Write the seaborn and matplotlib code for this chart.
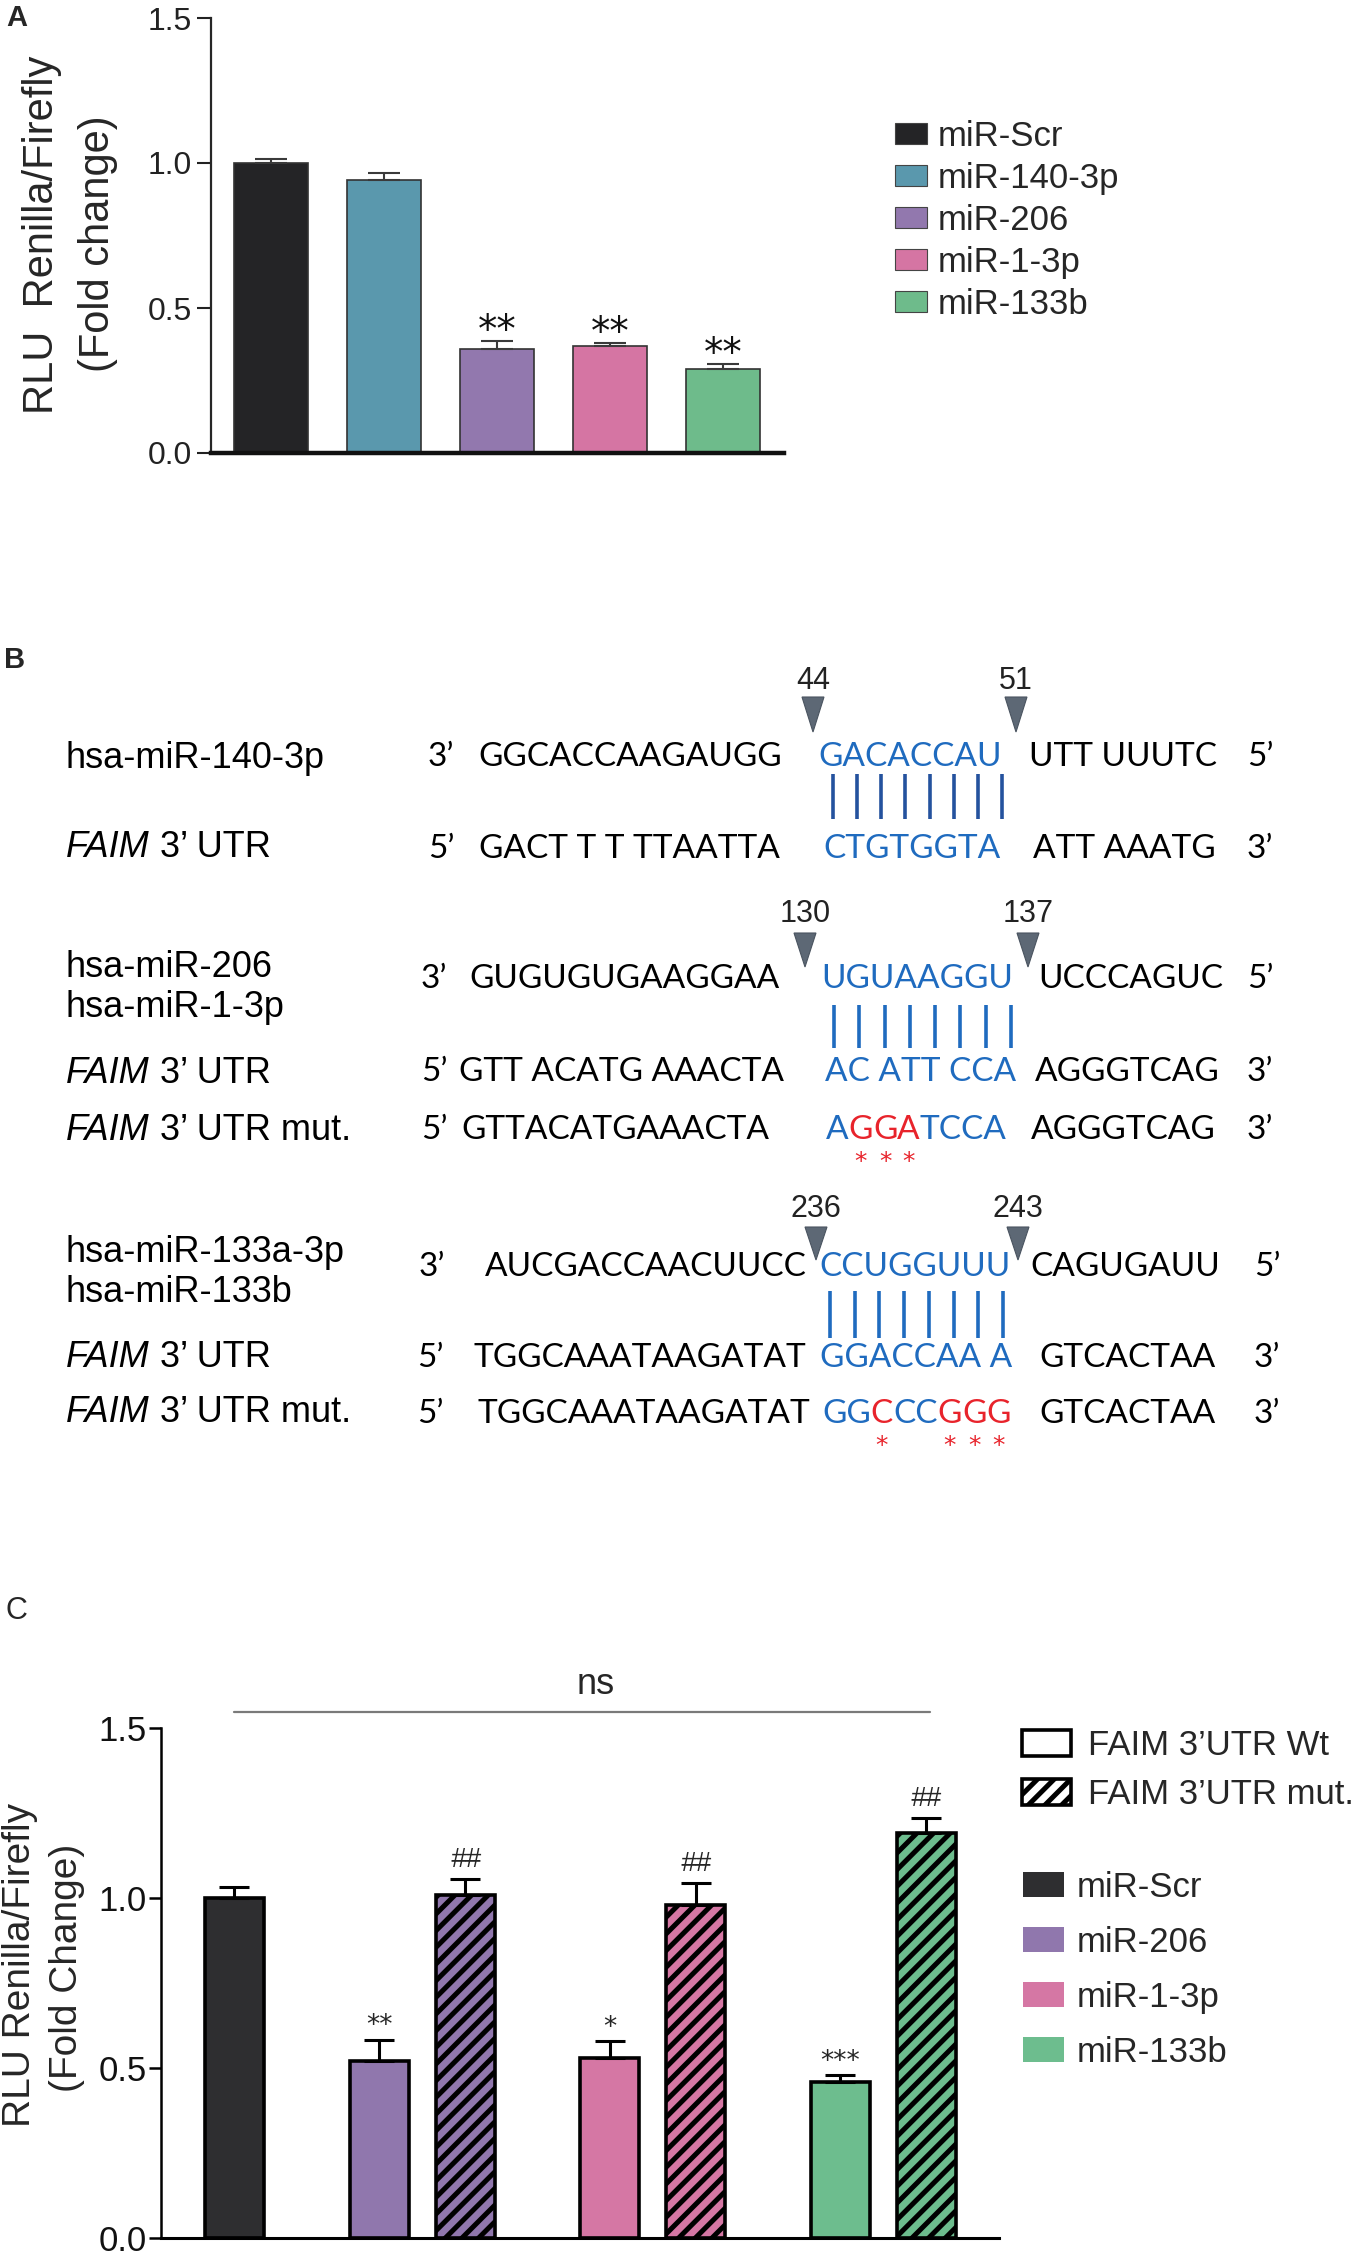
import numpy as np
import pandas as pd
import matplotlib
matplotlib.use("Agg")
import matplotlib.pyplot as plt
import seaborn as sns
from matplotlib.patches import Patch, Polygon

# ----------------------- Data -----------------------

# Panel A: FAIM 3'UTR reporter with each miRNA mimic
a_groups = ["miR-Scr", "miR-140-3p", "miR-206", "miR-1-3p", "miR-133b"]
a_means = [1.00, 0.94, 0.36, 0.37, 0.29]
a_errs = [0.014, 0.024, 0.027, 0.010, 0.017]
a_marks = ["", "", "**", "**", "**"]

# Panel C: wild type vs mutated 3'UTR
c_groups = ["miR-Scr", "miR-206", "miR-206", "miR-1-3p", "miR-1-3p", "miR-133b", "miR-133b"]
c_construct = ["Wt", "Wt", "mut", "Wt", "mut", "Wt", "mut"]
c_means = [1.00, 0.52, 1.01, 0.53, 0.98, 0.46, 1.19]
c_errs = [0.032, 0.062, 0.045, 0.048, 0.064, 0.018, 0.045]
c_marks = ["", "**", "##", "*", "##", "***", "##"]
c_legend_constructs = ["FAIM 3’UTR Wt", "FAIM 3’UTR mut."]
c_legend_groups = ["miR-Scr", "miR-206", "miR-1-3p", "miR-133b"]

# Panel B: seed pairing (end, flank, seed, flank, end)
b_rows = [
    ["3’", "GGCACCAAGAUGG", "GACACCAU", "UTT UUUTC", "5’"],
    ["5’", "GACT T T TTAATTA", "CTGTGGTA", "ATT AAATG", "3’"],
    ["3’", "GUGUGUGAAGGAA", "UGUAAGGU", "UCCCAGUC", "5’"],
    ["5’", "GTT ACATG AAACTA", "AC ATT CCA", "AGGGTCAG", "3’"],
    ["5’", "GTTACATGAAACTA", "AGGATCCA", "AGGGTCAG", "3’"],
    ["3’", "AUCGACCAACUUCC", "CCUGGUUU", "CAGUGAUU", "5’"],
    ["5’", "TGGCAAATAAGATAT", "GGACCAA A", "GTCACTAA", "3’"],
    ["5’", "TGGCAAATAAGATAT", "GGCCCGGG", "GTCACTAA", "3’"],
]
b_mutated = ["", "", "", "", "01110000", "", "", "00100111"]
b_labels = ["hsa-miR-140-3p", "FAIM 3’ UTR", "hsa-miR-206", "hsa-miR-1-3p",
            "FAIM 3’ UTR", "FAIM 3’ UTR mut.", "hsa-miR-133a-3p", "hsa-miR-133b",
            "FAIM 3’ UTR", "FAIM 3’ UTR mut."]
b_sites = [("44", "51"), ("130", "137"), ("236", "243")]

# ----------------------- Styles / layout -----------------------

a_colors = {"miR-Scr": "#242426", "miR-140-3p": "#5a98ad", "miR-206": "#9278ae",
            "miR-1-3p": "#d575a3", "miR-133b": "#6ebb8b"}
c_colors = {"miR-Scr": "#2e2e30", "miR-206": "#9077ad", "miR-1-3p": "#d577a4",
            "miR-133b": "#6dbd8e"}
BLUE = "#1f6bbf"
BLUE_DARK = "#24529e"
RED = "#e8232b"

W, H = 1355, 2252

# Panel B layout in pixel units of the final image
row_yc = [754, 846, 976, 1069, 1127, 1264, 1355, 1411]
row_x = [[428, 478, 818, 1029, 1247], [428, 479, 823, 1033, 1247],
         [421, 469, 821, 1038, 1247], [421, 459, 825, 1035, 1247],
         [421, 461, 826, 1031, 1247], [419, 485, 819, 1030, 1254],
         [417, 474, 820, 1039, 1254], [417, 478, 822, 1039, 1254]]
label_yc = [756, 845, 965, 1005, 1071, 1128, 1250, 1290, 1355, 1410]
site_x = [(813, 1016), (805, 1028), (816, 1018)]
site_num_y = [681, 914, 1209]
tri_top = [697, 933, 1227]
tri_tip = [732, 967, 1260]
pair_x = [(833, 1002), (834, 1011), (830, 1003)]
pair_y = [(774, 819), (1005, 1048), (1291, 1338)]
pair_col = [BLUE_DARK, BLUE, BLUE]

# Panel C bar positions (in bar-slot units)
c_center = {"miR-Scr": 0.0, "miR-206": 2.19, "miR-1-3p": 4.87, "miR-133b": 7.55}

sns.set_theme(style="ticks")
plt.rcParams["font.family"] = ["Liberation Sans", "DejaVu Sans"]
plt.rcParams["hatch.linewidth"] = 3.6
plt.rcParams["hatch.color"] = "black"

fig = plt.figure(figsize=(W / 100, H / 100), dpi=100)

# overlay in pixel coordinates for free text
ov = fig.add_axes([0, 0, 1, 1])
ov.set_xlim(0, W)
ov.set_ylim(H, 0)
ov.axis("off")


def chain_text(ax, x, y, chunks):
    """Draw text pieces one after another on the same baseline."""
    arts = []
    s, kw = chunks[0]
    t = ax.text(x, y, s, ha="left", va="baseline", **kw)
    arts.append(t)
    for s, kw in chunks[1:]:
        t = ax.annotate(s, xy=(1, 0), xycoords=t, ha="left", va="bottom", **kw)
        arts.append(t)
    return arts


# ----------------------- Panel A -----------------------

axA = fig.add_axes([211 / W, 1 - 453 / H, (784 - 211) / W, (453 - 18) / H])
axA.set_facecolor("none")
dfA = pd.DataFrame({"group": a_groups, "mean": a_means, "err": a_errs})
sns.barplot(data=dfA, x="group", y="mean", hue="group", palette=a_colors,
            width=0.66, saturation=1, edgecolor="#333333", linewidth=1.2,
            errorbar=None, legend=False, ax=axA)
xa = np.arange(len(a_groups))
axA.errorbar(xa, dfA["mean"], yerr=[np.zeros(len(xa)), dfA["err"]], fmt="none",
             ecolor="#3a3a3a", elinewidth=1.5, capsize=11.5, capthick=1.5, zorder=3)
for i, m in enumerate(a_marks):
    if m:
        axA.annotate(m, xy=(xa[i], a_means[i] + a_errs[i]), xytext=(0, -1),
                     textcoords="offset points", ha="center", va="baseline",
                     fontsize=28, family="DejaVu Sans", color="#111111")
axA.set_ylim(0, 1.5)
axA.set_xlim(-0.53, 4.54)
axA.set_yticks([0, 0.5, 1.0, 1.5])
axA.set_yticklabels(["0.0", "0.5", "1.0", "1.5"], fontsize=23, color="#222222")
axA.set_xticks([])
axA.set_xlabel("")
axA.set_ylabel("")
axA.tick_params(axis="y", length=10, width=1.5, pad=4, color="#222222")
sns.despine(ax=axA)
axA.spines["left"].set_linewidth(1.6)
axA.spines["bottom"].set_linewidth(3.2)
axA.spines["bottom"].set_color("#111111")

ov.text(42, 235, "RLU  Renilla/Firefly", rotation=90, ha="center", va="center", fontsize=30)
ov.text(98, 244, "(Fold change)", rotation=90, ha="center", va="center", fontsize=30)
ov.text(17, 18, "A", ha="center", va="center", fontsize=21, fontweight="bold")

fig.legend([Patch(facecolor=a_colors[g], edgecolor="#444444", linewidth=0.8) for g in a_groups],
           a_groups, loc="upper left", bbox_to_anchor=(895, 120), bbox_transform=ov.transData,
           frameon=False, fontsize=25, handlelength=0.92, handleheight=0.55,
           handletextpad=0.32, labelspacing=0.26, borderpad=0, borderaxespad=0)

# ----------------------- Panel B -----------------------

ov.text(15, 660, "B", ha="center", va="center", fontsize=21, fontweight="bold")

SEQ = dict(family="Lato", fontsize=24)
LAB = dict(family="Liberation Sans", fontsize=26)
cap_half = 0.36 * 24 * 100 / 72

for lab, yc in zip(b_labels, label_yc):
    yb = yc + cap_half
    if lab.startswith("FAIM"):
        chain_text(ov, 66, yb, [("FAIM", dict(LAB, style="italic", color="black")),
                                (lab[4:], dict(LAB, color="black"))])
    else:
        ov.text(66, yb, lab, ha="left", va="baseline", color="black", **LAB)

for r, (pieces, mask) in enumerate(zip(b_rows, b_mutated)):
    yb = row_yc[r] + cap_half
    for k, piece in enumerate(pieces):
        x0 = row_x[r][k]
        if k != 2:
            ov.text(x0, yb, piece, ha="left", va="baseline", color="black", **SEQ)
            continue
        if not mask:
            ov.text(x0, yb, piece, ha="left", va="baseline", color=BLUE, **SEQ)
            continue
        chunks, flags, run = [], [], ""
        for ch, f in zip(piece, mask):
            if f == "1":
                if run:
                    chunks.append((run, dict(SEQ, color=BLUE)))
                    flags.append(False)
                    run = ""
                chunks.append((ch, dict(SEQ, color=RED)))
                flags.append(True)
            else:
                run += ch
        if run:
            chunks.append((run, dict(SEQ, color=BLUE)))
            flags.append(False)
        arts = chain_text(ov, x0, yb, chunks)
        for art, f in zip(arts, flags):
            if f:
                ov.annotate("*", xy=(0.5, row_yc[r] + 42), xycoords=(art, "data"),
                            ha="center", va="baseline", color=RED, fontsize=18,
                            family="DejaVu Sans")

for b, (n1, n2) in enumerate(b_sites):
    for n, xc in zip((n1, n2), site_x[b]):
        ov.text(xc, site_num_y[b], n, ha="center", va="center", fontsize=22, color="#222222")
        ov.add_patch(Polygon([(xc - 11, tri_top[b]), (xc + 11, tri_top[b]), (xc, tri_tip[b])],
                             closed=True, facecolor="#5d6875", edgecolor="#4a5460", lw=0.8))
    n_pairs = len(b_rows[0][2])
    xs = np.linspace(pair_x[b][0], pair_x[b][1], n_pairs)
    ov.vlines(xs, pair_y[b][0], pair_y[b][1], colors=pair_col[b], lw=2.6)

# ----------------------- Panel C -----------------------

axC = fig.add_axes([161 / W, 1 - 2238 / H, (999 - 161) / W, (2238 - 1728) / H])
axC.set_facecolor("none")
xc_pos = [c_center[g] + (0 if g == "miR-Scr" else (-0.5 if c == "Wt" else 0.5))
          for g, c in zip(c_groups, c_construct)]
bars = axC.bar(xc_pos, c_means, width=0.686, color=[c_colors[g] for g in c_groups],
               edgecolor="black", linewidth=2.6, zorder=2)
for bar, c in zip(bars, c_construct):
    if c == "mut":
        bar.set_hatch("//")
axC.errorbar(xc_pos, c_means, yerr=[np.zeros(len(xc_pos)), c_errs], fmt="none",
             ecolor="black", elinewidth=2.2, capsize=10.5, capthick=2.2, zorder=3)
for x, m, e, mk in zip(xc_pos, c_means, c_errs, c_marks):
    if not mk:
        continue
    if mk.startswith("#"):
        axC.annotate(mk, xy=(x, m + e), xytext=(0, 9), textcoords="offset points",
                     ha="center", va="baseline", fontsize=20, style="italic")
    else:
        axC.annotate(mk, xy=(x, m + e), xytext=(0, 5), textcoords="offset points",
                     ha="center", va="baseline", fontsize=19, family="DejaVu Sans")
axC.set_ylim(0, 1.5)
axC.set_xlim(-0.849, 8.895)
axC.set_yticks([0, 0.5, 1.0, 1.5])
axC.set_yticklabels(["0.0", "0.5", "1.0", "1.5"], fontsize=25, color="#111111")
axC.set_xticks([])
axC.tick_params(axis="y", length=9, width=1.8, pad=1, color="black")
sns.despine(ax=axC)
axC.spines["left"].set_linewidth(1.8)
axC.spines["bottom"].set_linewidth(2.2)
axC.spines["bottom"].set_color("black")
axC.spines["left"].set_color("black")

ov.text(20, 1965, "RLU Renilla/Firefly", rotation=90, ha="center", va="center", fontsize=28)
ov.text(67, 1968, "(Fold Change)", rotation=90, ha="center", va="center", fontsize=28)
ov.text(16, 1611, "C", ha="center", va="center", fontsize=22)
ov.plot([234, 930], [1712, 1712], color="#7a7a7a", lw=1.6)
ov.text(596, 1684, "ns", ha="center", va="center", fontsize=26)

fig.legend([Patch(facecolor="white", edgecolor="black", linewidth=2.6),
            Patch(facecolor="white", edgecolor="black", linewidth=2.6, hatch="//")],
           c_legend_constructs, loc="upper left", bbox_to_anchor=(1022, 1729),
           bbox_transform=ov.transData, frameon=False, fontsize=25, handlelength=1.41,
           handleheight=0.78, handletextpad=0.49, labelspacing=0.46, borderpad=0,
           borderaxespad=0)
fig.legend([Patch(facecolor=c_colors[g], edgecolor="none") for g in c_legend_groups],
           c_legend_groups, loc="upper left", bbox_to_anchor=(1023, 1871),
           bbox_transform=ov.transData, frameon=False, fontsize=25, handlelength=1.18,
           handleheight=0.72, handletextpad=0.37, labelspacing=0.63, borderpad=0,
           borderaxespad=0)

fig.savefig("out.png", dpi=100, facecolor="white")
